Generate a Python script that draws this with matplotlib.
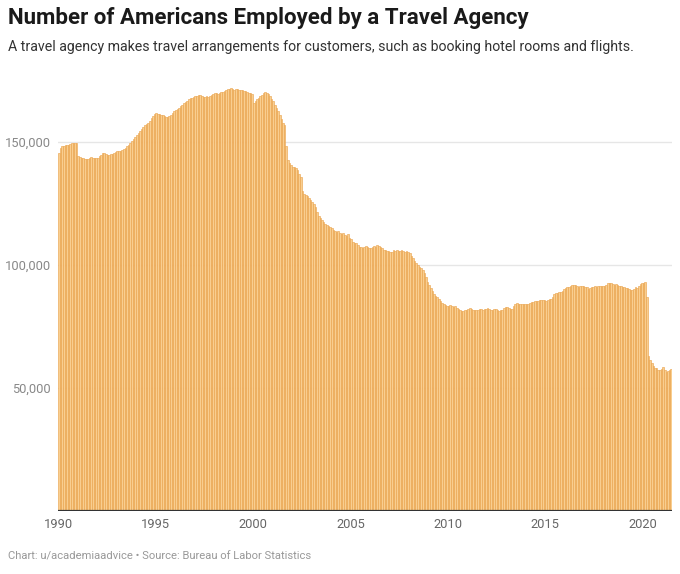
import numpy as np
import matplotlib.pyplot as plt

# monthly employment, thousands
y1990 = [145.7, 147.4, 148.2, 148.5, 148.6, 148.8, 148.9, 149.1, 149.4, 149.5, 149.5, 149.6]
y1991 = [144.2, 143.8, 143.6, 143.5, 143.2, 143.1, 143.3, 143.6, 143.8, 143.7, 143.5, 143.4]
y1992 = [143.5, 144.3, 144.9, 145.4, 145.7, 145.3, 144.8, 144.7, 145.0, 145.3, 145.4, 145.9]
y1993 = [146.2, 146.4, 146.5, 146.8, 147.0, 147.6, 148.2, 148.8, 149.5, 150.3, 151.1, 152.0]
y1994 = [152.8, 153.5, 154.3, 155.2, 156.2, 156.8, 157.3, 157.9, 158.5, 159.6, 160.5, 161.2]
y1995 = [161.7, 161.5, 161.2, 161.0, 160.8, 160.5, 160.1, 160.0, 160.5, 161.0, 161.8, 162.5]
y1996 = [163.0, 163.4, 164.0, 164.5, 165.2, 165.7, 166.3, 166.8, 167.3, 167.8, 168.0, 168.3]
y1997 = [168.6, 168.9, 169.0, 169.3, 168.7, 168.4, 168.4, 168.6, 168.5, 168.8, 169.2, 169.5]
y1998 = [169.8, 169.8, 169.6, 170.0, 170.3, 170.5, 170.8, 171.1, 171.4, 171.7, 171.8, 171.5]
y1999 = [171.2, 171.6, 171.4, 171.0, 171.3, 171.0, 170.6, 170.8, 170.4, 170.0, 169.8, 169.5]
y2000 = [165.8, 166.5, 167.3, 167.9, 168.6, 169.2, 169.8, 170.2, 170.0, 169.5, 168.6, 167.6]
y2001 = [166.5, 165.2, 164.0, 162.8, 161.0, 159.5, 157.8, 157.0, 148.5, 142.8, 141.5, 140.6]
y2002 = [140.0, 139.8, 139.4, 138.5, 137.2, 135.8, 130.0, 128.8, 128.3, 127.9, 127.3, 126.5]
y2003 = [125.5, 124.8, 123.5, 121.5, 120.0, 119.2, 118.5, 117.6, 116.8, 116.2, 116.0, 115.6]
y2004 = [115.0, 114.3, 113.8, 113.4, 113.8, 113.0, 112.8, 113.0, 112.2, 111.6, 112.6, 111.0]
y2005 = [110.4, 109.5, 109.0, 108.8, 108.0, 107.5, 107.2, 107.0, 107.3, 107.6, 107.5, 106.9]
y2006 = [107.1, 107.4, 107.8, 107.5, 108.0, 107.9, 107.2, 106.8, 106.2, 106.0, 105.5, 105.8]
y2007 = [105.4, 105.2, 106.0, 105.7, 105.9, 105.5, 105.8, 106.0, 105.7, 105.3, 105.6, 105.4]
y2008 = [104.8, 103.5, 102.8, 101.8, 100.8, 100.0, 99.3, 98.8, 98.0, 96.8, 95.0, 93.2]
y2009 = [92.0, 90.8, 89.5, 88.2, 87.5, 86.8, 86.0, 85.3, 84.7, 84.0, 83.6, 83.4]
y2010 = [83.4, 83.6, 83.3, 83.1, 83.4, 82.6, 82.0, 81.8, 81.5, 81.3, 81.6, 81.9]
y2011 = [82.3, 82.5, 82.0, 81.7, 81.8, 81.6, 81.9, 82.2, 82.0, 81.8, 82.1, 82.3]
y2012 = [82.4, 82.1, 81.9, 81.8, 82.0, 82.2, 81.8, 81.4, 81.6, 81.9, 82.5, 82.9]
y2013 = [83.0, 82.6, 82.1, 82.0, 83.2, 84.2, 84.5, 84.0, 84.3, 84.1, 84.3, 84.0]
y2014 = [84.1, 84.3, 84.6, 85.0, 85.1, 85.3, 85.5, 85.4, 85.6, 85.8, 85.7, 85.6]
y2015 = [85.5, 85.8, 86.0, 86.2, 87.0, 88.2, 88.5, 88.7, 89.0, 89.2, 89.5, 90.2]
y2016 = [90.6, 91.0, 91.2, 91.4, 91.7, 91.9, 91.8, 91.5, 91.2, 91.4, 91.6, 91.3]
y2017 = [91.2, 91.0, 90.1, 90.7, 91.0, 91.2, 91.3, 91.0, 91.4, 91.5, 91.4, 91.6]
y2018 = [91.5, 92.0, 92.5, 92.8, 92.6, 92.2, 92.0, 92.3, 91.8, 91.5, 91.6, 91.2]
y2019 = [91.0, 90.7, 90.5, 90.3, 90.0, 89.8, 90.2, 91.0, 90.5, 91.5, 92.2, 92.5]
y2020 = [92.8, 93.0, 87.0, 63.0, 61.5, 60.2, 59.0, 58.3, 58.0, 57.5, 57.3, 57.6]
y2021 = [58.4, 57.2, 56.6, 57.0, 57.5, 57.6]

years = [y1990, y1991, y1992, y1993, y1994, y1995, y1996, y1997, y1998, y1999,
         y2000, y2001, y2002, y2003, y2004, y2005, y2006, y2007, y2008, y2009,
         y2010, y2011, y2012, y2013, y2014, y2015, y2016, y2017, y2018, y2019,
         y2020, y2021]

employed = np.concatenate([np.array(y) for y in years]) * 1000
months = 1990 + np.arange(len(employed)) / 12.0

title = "Number of Americans Employed by a Travel Agency"
subtitle = "A travel agency makes travel arrangements for customers, such as booking hotel rooms and flights."
footer = "Chart: u/academiaadvice \u2022 Source: Bureau of Labor Statistics"
xticks = [1990, 1995, 2000, 2005, 2010, 2015, 2020]
yticks = [50000, 100000, 150000]

plt.rcParams['font.family'] = ['Roboto', 'DejaVu Sans']

fig = plt.figure(figsize=(6.8, 5.74), dpi=100)
ax = fig.add_axes([0.0853, 0.1098, 0.903, 0.7499])

ax.bar(months, employed, width=1 / 12, align='edge',
       color='#F9CE90', edgecolor='#E99F45', linewidth=0.4, zorder=2)

ax.set_xlim(1990, 2021.5)
ax.set_ylim(0, 175000)

for v in yticks:
    ax.axhline(v, color='#e6e6e6', lw=1, zorder=1)
ax.axhline(0, color='#333333', lw=1.6, zorder=3)

ax.set_xticks(xticks)
ax.set_xticklabels([str(t) for t in xticks], fontsize=9.3, color='#666666')
ax.set_yticks(yticks)
ax.set_yticklabels([f"{v:,}" for v in yticks], fontsize=9.3, color='#888888')
ax.tick_params(axis='both', length=0)
ax.tick_params(axis='y', pad=5)
ax.tick_params(axis='x', pad=5)
for s in ax.spines.values():
    s.set_visible(False)

fig.text(0.012, 0.988, title, fontsize=16, fontweight='bold', color='#1a1a1a', va='top')
fig.text(0.012, 0.930, subtitle, fontsize=10.2, color='#333333', va='top')
fig.text(0.012, 0.030, footer, fontsize=8.1, color='#999999', va='center')

fig.savefig('out.png', dpi=100)
